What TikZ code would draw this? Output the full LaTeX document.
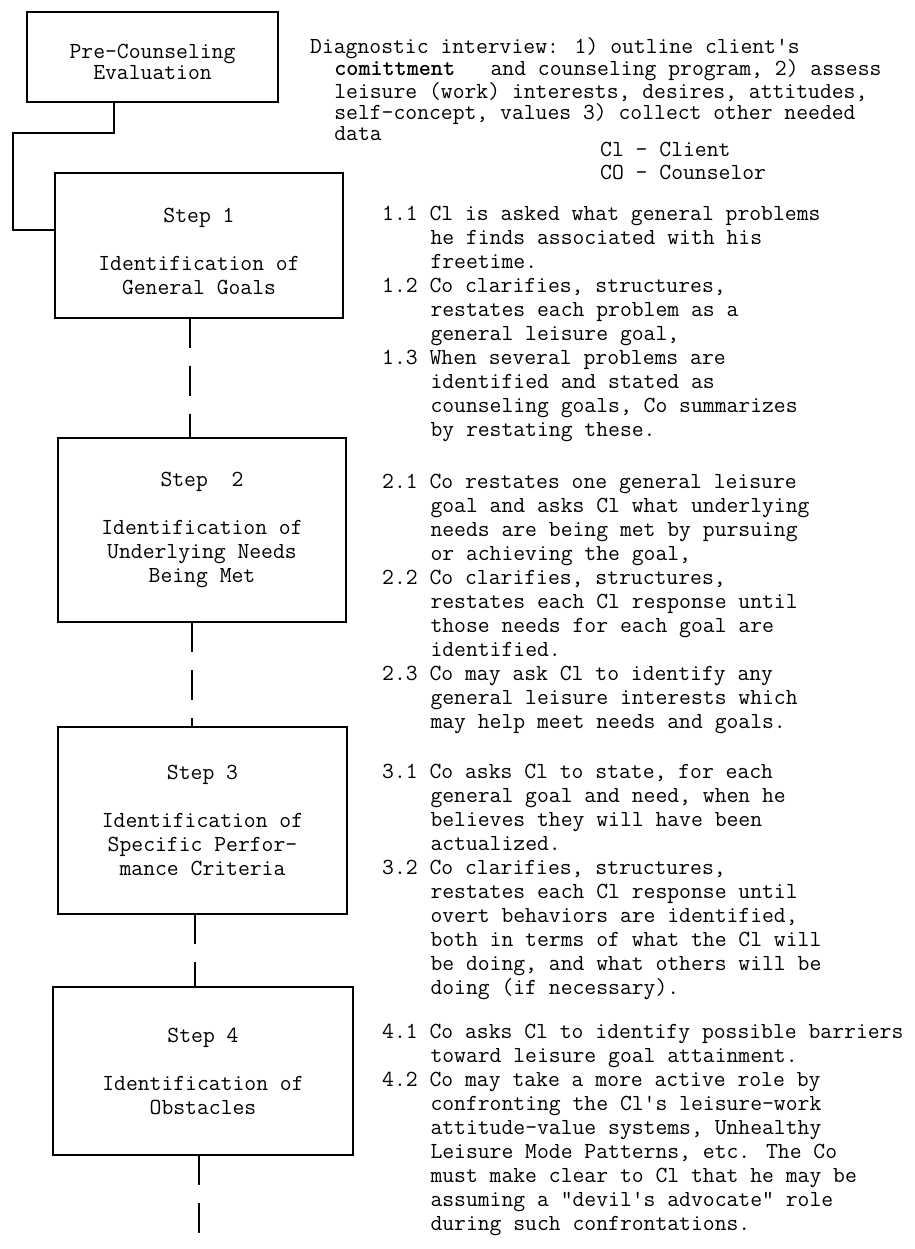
\documentclass[tikz,border=0pt]{standalone}
\usepackage{fontspec}

\newcommand{\ind}{\hspace*{48.3pt}}
\newcommand{\sub}{\hspace*{24.15pt}}
\newcommand{\lead}{\rule{0pt}{17pt}}

\tikzset{
    stepbox/.style={draw, line width=1.4pt, inner sep=0pt, outer sep=0pt, align=center, font=\fontsize{23}{24}\selectfont\ttfamily},
    edge/.style={line width=2.8pt},
    notes/.style={anchor=north west, inner sep=0pt, align=left, font=\fontsize{23}{24}\selectfont\ttfamily},
    link/.style={line width=1.6pt, dash pattern=on 30pt off 18pt},
}

\begin{document}
\begin{tikzpicture}[x=1pt, y=-1pt]
\useasboundingbox (0,0) rectangle (914,1249);

% boxes down the left side
\node[stepbox, minimum width=251pt, minimum height=90pt, font=\fontsize{23}{21}\selectfont\ttfamily] (pre) at (152.5,57) {\rule{0pt}{25pt}Pre-Counseling\\Evaluation};
\node[stepbox, minimum width=288pt, minimum height=145pt] (s1) at (199,245.5) {\rule{0pt}{27pt}Step 1\\[24pt]Identification of\\General Goals};
\node[stepbox, minimum width=288pt, minimum height=184pt] (s2) at (202,530) {Step~~2\\[24pt]Identification of\\Underlying Needs\\Being Met};
\node[stepbox, minimum width=289pt, minimum height=187pt] (s3) at (202.5,820.5) {Step 3\\[24pt]Identification of\\Specific Perfor-\\mance Criteria};
\node[stepbox, minimum width=300pt, minimum height=168pt] (s4) at (203,1071) {Step 4\\[24pt]Identification of\\Obstacles};

% heavier top and bottom rules
\draw[edge] (pre.north west) -- (pre.north east) (pre.south west) -- (pre.south east);
\draw[edge] (s1.north west) -- (s1.north east) (s1.south west) -- (s1.south east);
\draw[edge] (s2.north west) -- (s2.north east) (s2.south west) -- (s2.south east);
\draw[edge] (s3.north west) -- (s3.north east) (s3.south west) -- (s3.south east);
\draw[edge] (s4.north west) -- (s4.north east) (s4.south west) -- (s4.south east);

% connectors
\coordinate (bend) at (13,133);
\coordinate (tail) at (199,1249);
\draw[line width=2pt] ([xshift=-39pt]pre.south) |- (bend) |- ([yshift=15pt]s1.west);
\draw[link] ([xshift=-9pt]s1.south) -- ([xshift=-9pt]s1.south |- s2.north);
\draw[link] ([xshift=-10pt]s2.south) -- ([xshift=-10pt]s2.south |- s3.north);
\draw[link] ([xshift=-7.5pt]s3.south) -- ([xshift=-7.5pt]s3.south |- s4.north);
\draw[link] ([xshift=-4pt]s4.south) -- (tail);

% text on the right
\node[notes, font=\fontsize{23}{21}\selectfont\ttfamily] (diag) at (310,36.5) {\lead Diagnostic interview: 1) outline client's\\
\sub\textbf{comittment}~~~and counseling program, 2) assess\\
\sub leisure (work) interests, desires, attitudes,\\
\sub self-concept, values 3) collect other needed\\
\sub data};
\node[notes, font=\fontsize{23}{23}\selectfont\ttfamily] (legend) at (600,139.5) {\lead Cl - Client\\CO - Counselor};

\node[notes] (t1) at (382,203.5) {\lead 1.1 Cl is asked what general problems\\
\ind he finds associated with his\\
\ind freetime.\\
1.2 Co clarifies, structures,\\
\ind restates each problem as a\\
\ind general leisure goal,\\
1.3 When several problems are\\
\ind identified and stated as\\
\ind counseling goals, Co summarizes\\
\ind by restating these.};

\node[notes] (t2) at (382,471.5) {\lead 2.1 Co restates one general leisure\\
\ind goal and asks Cl what underlying\\
\ind needs are being met by pursuing\\
\ind or achieving the goal,\\
2.2 Co clarifies, structures,\\
\ind restates each Cl response until\\
\ind those needs for each goal are\\
\ind identified.\\
2.3 Co may ask Cl to identify any\\
\ind general leisure interests which\\
\ind may help meet needs and goals.};

\node[notes] (t3) at (382,761.5) {\lead 3.1 Co asks Cl to state, for each\\
\ind general goal and need, when he\\
\ind believes they will have been\\
\ind actualized.\\
3.2 Co clarifies, structures,\\
\ind restates each Cl response until\\
\ind overt behaviors are identified,\\
\ind both in terms of what the Cl will\\
\ind be doing, and what others will be\\
\ind doing (if necessary).};

\node[notes] (t4) at (382,1021.5) {\lead 4.1 Co asks Cl to identify possible barriers\\
\ind toward leisure goal attainment.\\
4.2 Co may take a more active role by\\
\ind confronting the Cl's leisure-work\\
\ind attitude-value systems, Unhealthy\\
\ind Leisure Mode Patterns, etc. The Co\\
\ind must make clear to Cl that he may be\\
\ind assuming a "devil's advocate" role\\
\ind during such confrontations.};

\end{tikzpicture}
\end{document}
